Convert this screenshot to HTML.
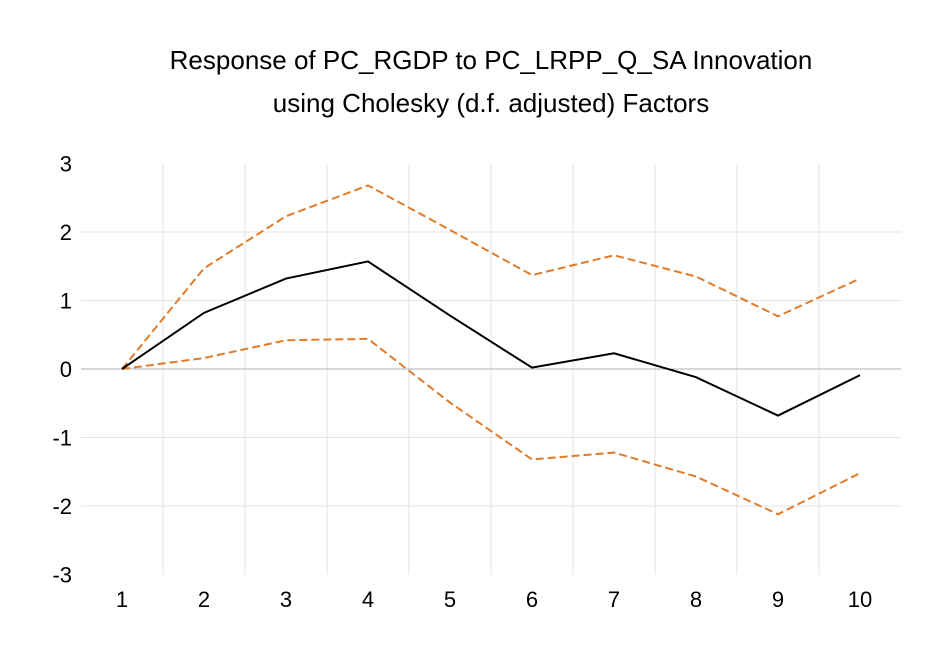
<!DOCTYPE html>
<html><head><meta charset="utf-8"><style>
body{margin:0;background:#fff;}
svg{display:block;font-family:"Liberation Sans",Calibri,sans-serif;}
</style></head><body>
<svg id="chart" width="950" height="662" viewBox="0 0 950 662">
<text x="491" y="69" text-anchor="middle" font-size="26" fill="#000">Response of PC_RGDP to PC_LRPP_Q_SA Innovation</text>
<text x="491" y="112" text-anchor="middle" font-size="26" fill="#000">using Cholesky (d.f. adjusted) Factors</text>
<g id="grid"></g>
<g id="axes"></g>
<g id="series"></g>
</svg>
<script>
const categories=[1,2,3,4,5,6,7,8,9,10];
const responseValues=[0,0.82,1.32,1.57,0.78,0.02,0.23,-0.12,-0.68,-0.09];
const upperBand=[0,1.47,2.23,2.68,2.03,1.37,1.66,1.35,0.77,1.32];
const lowerBand=[0,0.16,0.42,0.44,-0.49,-1.32,-1.22,-1.57,-2.12,-1.52];
const yTicks=[-3,-2,-1,0,1,2,3];
const NS="http://www.w3.org/2000/svg";
const left=81,right=901,band=(right-left)/categories.length;
const y0=369,unit=68.5;
function xScale(i){return left+band*(i+0.5);}
function yScale(v){return y0-v*unit;}
function mk(t,a,p){const e=document.createElementNS(NS,t);for(const k in a)e.setAttribute(k,a[k]);p.appendChild(e);return e;}
const grid=document.getElementById('grid'),axes=document.getElementById('axes'),series=document.getElementById('series');
yTicks.forEach(v=>{
  if(v!==0&&Math.abs(v)<3){
    const l=mk('line',{x1:left,x2:right,y1:yScale(v),y2:yScale(v),stroke:'#e3e3e3','stroke-width':1},grid);
    
    
  }
  const t=mk('text',{x:72,y:yScale(v)+8,'text-anchor':'end','font-size':22,fill:'#000'},axes);
  t.textContent=v;
  
  
});
for(let i=1;i<categories.length;i++){
  const x=left+band*i;
  const l=mk('line',{x1:x,x2:x,y1:yScale(3),y2:yScale(-3),stroke:'#e3e3e3','stroke-width':1},grid);
  
  
}
const zl=mk('line',{x1:left,x2:right,y1:yScale(0),y2:yScale(0),stroke:'#b0b0b0','stroke-width':1},axes);


categories.forEach((c,i)=>{
  const t=mk('text',{x:xScale(i),y:607,'text-anchor':'middle','font-size':22,fill:'#000'},axes);
  t.textContent=c;
  
  
});
function pts(a){return a.map((v,i)=>xScale(i)+','+yScale(v)).join(' ');}
const up=mk('polyline',{points:pts(upperBand),fill:'none',stroke:'#e07b2a','stroke-width':2,'stroke-dasharray':'8,4'},series);


const lo=mk('polyline',{points:pts(lowerBand),fill:'none',stroke:'#e07b2a','stroke-width':2,'stroke-dasharray':'8,4'},series);


const r=mk('polyline',{points:pts(responseValues),fill:'none',stroke:'#000','stroke-width':2},series);


</script>
</body></html>
